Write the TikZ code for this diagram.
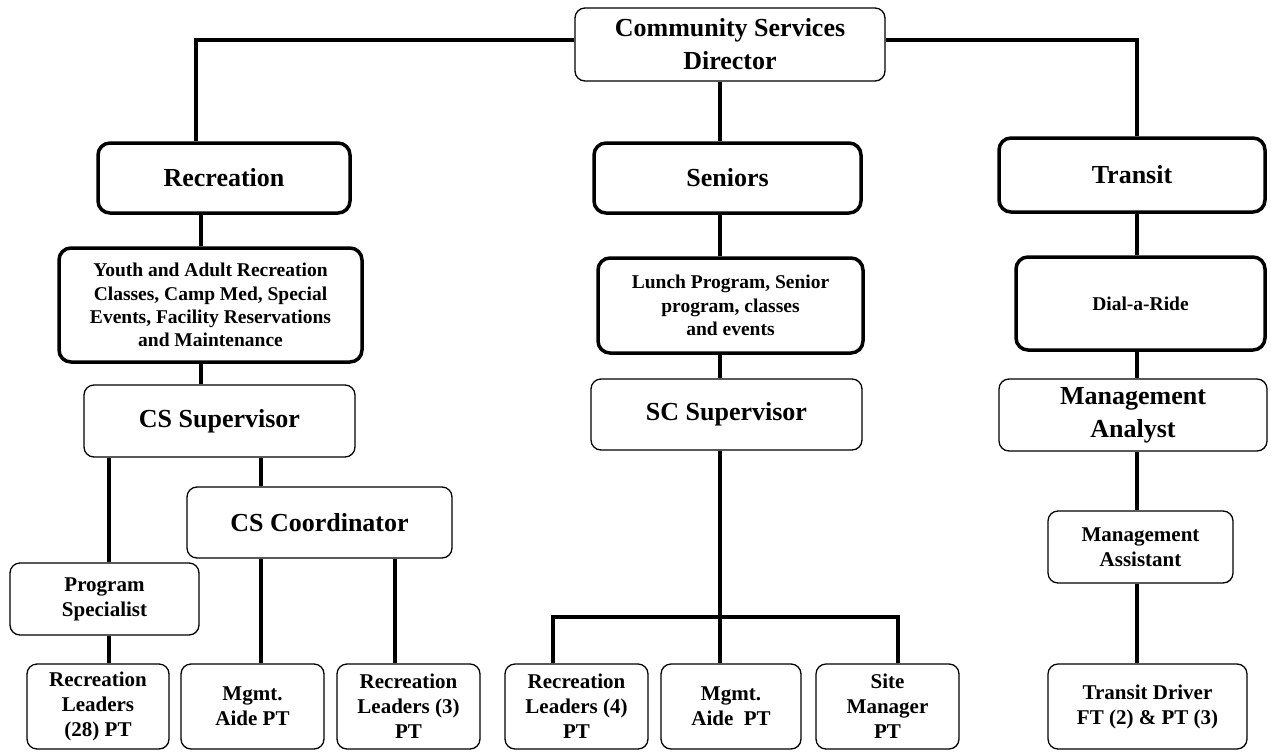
\documentclass[tikz,border=0pt]{standalone}
\usepackage{fontspec}
\setmainfont{Liberation Serif}
\begin{document}
\begin{tikzpicture}[x=1pt,y=1pt,
  thinbox/.style={draw, line width=1.3pt, rounded corners=10pt, align=center, inner sep=0pt},
  thickbox/.style={draw, line width=3.5pt, rounded corners=12pt, align=center, inner sep=0pt},
  bigtxt/.style={font=\bfseries\fontsize{26}{33}\selectfont},
  midtxt/.style={font=\bfseries\fontsize{21}{25}\selectfont},
  smalltxt/.style={font=\bfseries\fontsize{19.5}{23.3}\selectfont},
  link/.style={line width=3.5pt}]
\useasboundingbox (0,0) rectangle (1271,-755);

% top level
\node[thinbox, bigtxt, minimum width=310, minimum height=73] (dir) at (730,-44.5) {Community Services\\Director};

% divisions
\node[thickbox, bigtxt, minimum width=252, minimum height=70] (rec) at (224,-178) {Recreation};
\node[thickbox, bigtxt, minimum width=267, minimum height=70] (sen) at (727.5,-178) {Seniors};
\node[thickbox, bigtxt, minimum width=266, minimum height=74] (tra) at (1132,-175) {Transit};

% programs
\node[thickbox, smalltxt, minimum width=303, minimum height=114] (youth) at (210.5,-305)
  {Youth and Adult Recreation\\Classes, Camp Med, Special\\Events, Facility Reservations\\and Maintenance};
\node[thickbox, smalltxt, minimum width=265, minimum height=95] (lunch) at (730.5,-305.5)
  {Lunch Program, Senior\\program, classes\\and events};
\node[thickbox, smalltxt, minimum width=249, minimum height=93] (dial) at (1140.5,-303.5) {Dial-a-Ride};

% supervisors
\node[thinbox, bigtxt, minimum width=271, minimum height=72] (css) at (219.5,-421) {CS Supervisor};
\node[thinbox, bigtxt, minimum width=271, minimum height=71] (scs) at (726.5,-414.5) {SC Supervisor};
\node[thinbox, bigtxt, minimum width=268, minimum height=72] (ma) at (1133,-415) {Management\\Analyst};
\node[thinbox, bigtxt, minimum width=265, minimum height=71] (csc) at (319.5,-522.5) {CS Coordinator};
\node[thinbox, midtxt, minimum width=189, minimum height=72] (ps) at (104.5,-599) {Program\\Specialist};
\node[thinbox, midtxt, minimum width=185, minimum height=72] (mas) at (1140.5,-547) {Management\\Assistant};

% staff row
\node[thinbox, midtxt, minimum width=142, minimum height=85] (r28) at (98,-706.5) {Recreation\\Leaders\\(28) PT};
\node[thinbox, midtxt, minimum width=143, minimum height=85] (aide1) at (252.5,-706.5) {Mgmt.\\Aide PT};
\node[thinbox, midtxt, minimum width=143, minimum height=85] (r3) at (408.5,-706.5) {Recreation\\Leaders (3)\\PT};
\node[thinbox, midtxt, minimum width=143, minimum height=85] (r4) at (576.5,-706.5) {Recreation\\Leaders (4)\\PT};
\node[thinbox, midtxt, minimum width=140, minimum height=85] (aide2) at (731,-706.5) {Mgmt.\\Aide~~PT};
\node[thinbox, midtxt, minimum width=143, minimum height=85] (site) at (887.5,-706.5) {Site\\Manager\\PT};
\node[thinbox, midtxt, minimum width=199, minimum height=85] (td) at (1147.5,-706.5) {Transit Driver\\FT (2) \& PT (3)};

% connector columns and rows
\coordinate (yTop) at (0,-40);
\coordinate (xA) at (196,0);
\coordinate (xB) at (201,0);
\coordinate (xC) at (109,0);
\coordinate (xD) at (261,0);
\coordinate (xE) at (395,0);
\coordinate (xF) at (720,0);
\coordinate (xG) at (1137,0);
\coordinate (barL) at (553,-617);
\coordinate (barR) at (898,-617);

% connectors
\draw[link] (dir.west |- yTop) -| (rec.north -| xA);
\draw[link] (dir.east |- yTop) -| (tra.north -| xG);
\draw[link] (dir.south -| xF) -- (sen.north -| xF);

\draw[link] (rec.south -| xB) -- (youth.north -| xB);
\draw[link] (youth.south -| xB) -- (css.north -| xB);
\draw[link] (css.south -| xC) -- (ps.north -| xC);
\draw[link] (css.south -| xD) -- (csc.north -| xD);
\draw[link] (ps.south -| xC) -- (r28.north -| xC);
\draw[link] (csc.south -| xD) -- (aide1.north -| xD);
\draw[link] (csc.south -| xE) -- (r3.north -| xE);

\draw[link] (sen.south -| xF) -- (lunch.north -| xF);
\draw[link] (lunch.south -| xF) -- (scs.north -| xF);
\draw[link] (scs.south -| xF) -- (aide2.north -| xF);
\draw[link] (r4.north -| barL) -- (barL) -- (barR) -- (site.north -| barR);

\draw[link] (tra.south -| xG) -- (dial.north -| xG);
\draw[link] (dial.south -| xG) -- (ma.north -| xG);
\draw[link] (ma.south -| xG) -- (mas.north -| xG);
\draw[link] (mas.south -| xG) -- (td.north -| xG);
\end{tikzpicture}
\end{document}
